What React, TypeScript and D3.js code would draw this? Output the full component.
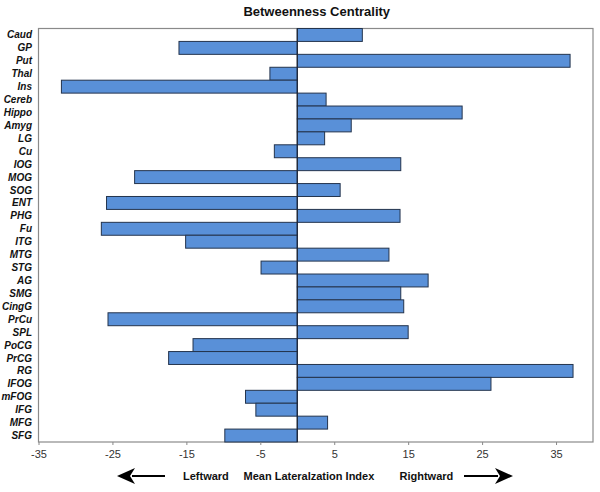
import React, { useRef, useEffect } from 'react';
import * as d3 from 'd3';

const regions = [
  "Caud", "GP", "Put", "Thal", "Ins", "Cereb", "Hippo", "Amyg", "LG", "Cu",
  "IOG", "MOG", "SOG", "ENT", "PHG", "Fu", "ITG", "MTG", "STG", "AG",
  "SMG", "CingG", "PrCu", "SPL", "PoCG", "PrCG", "RG", "IFOG", "mFOG", "IFG",
  "MFG", "SFG"
];
const lateralization = [
  8.8, -16.0, 36.9, -3.7, -31.9, 3.9, 22.3, 7.3, 3.7, -3.1,
  14.0, -22.0, 5.8, -25.8, 13.9, -26.5, -15.1, 12.4, -4.9, 17.7,
  14.0, 14.4, -25.6, 15.0, -14.1, -17.4, 37.3, 26.2, -7.0, -5.6,
  4.1, -9.8
];
const tickValues = [-35, -25, -15, -5, 5, 15, 25, 35];

export default function App() {
  const ref = useRef<SVGSVGElement>(null);
  const width = 600;
  const height = 492;

  useEffect(() => {
    const svg = d3.select(ref.current);
    svg.selectAll("*").remove();

    const left = 38.5, right = 593, top = 28.5, bottom = 442;
    const x = d3.scaleLinear().domain([-35, 40]).range([left, right]);
    const y = d3.scaleBand().domain(regions).range([top, bottom]).padding(0);
    const font = "Liberation Sans, Arial, sans-serif";

    svg.append("rect")
      .attr("x", left).attr("y", top)
      .attr("width", right - left).attr("height", bottom - top)
      .attr("fill", "white").attr("stroke", "#8a8a8a").attr("stroke-width", 1.2);

    svg.append("g")
      .selectAll("rect")
      .data(regions)
      .enter()
      .append("rect")
      .attr("x", (d, i) => x(Math.min(0, lateralization[i])))
      .attr("y", d => y(d)!)
      .attr("width", (d, i) => Math.abs(x(lateralization[i]) - x(0)))
      .attr("height", y.bandwidth())
      .attr("fill", "#5990d8")
      .attr("stroke", "#24344d")
      .attr("stroke-width", 1);

    svg.append("line")
      .attr("x1", x(0)).attr("x2", x(0))
      .attr("y1", top).attr("y2", bottom)
      .attr("stroke", "#1c2536").attr("stroke-width", 1.2);

    // hyphen minus like the original, not d3's unicode minus
    const xAxis = svg.append("g")
      .attr("transform", `translate(0,${bottom})`)
      .call(d3.axisBottom(x).tickValues(tickValues).tickSize(3).tickFormat(d => String(d)));
    xAxis.select(".domain").remove();
    xAxis.selectAll("line").attr("stroke", "#888");
    xAxis.selectAll("text")
      .attr("font-family", font).attr("font-size", 11)
      .attr("fill", "#333").attr("dy", "0.9em");

    svg.append("g")
      .selectAll("text")
      .data(regions)
      .enter()
      .append("text")
      .attr("x", 32)
      .attr("y", d => y(d)! + y.bandwidth() / 2)
      .attr("dy", "0.35em")
      .attr("text-anchor", "end")
      .attr("font-family", font)
      .attr("font-size", 10)
      .attr("font-weight", "bold")
      .attr("font-style", "italic")
      .attr("fill", "#111")
      .text(d => d);

    svg.append("text")
      .attr("x", (left + right) / 2 + 1).attr("y", 16)
      .attr("text-anchor", "middle")
      .attr("font-family", font).attr("font-size", 13).attr("font-weight", "bold")
      .attr("fill", "#111")
      .text("Betweenness Centrality");

    const labels = [
      { t: "Leftward", x: 183 },
      { t: "Mean Lateralzation Index", x: 243.5 },
      { t: "Rightward", x: 399.5 }
    ];
    svg.append("g")
      .selectAll("text")
      .data(labels)
      .enter()
      .append("text")
      .attr("x", d => d.x).attr("y", 480)
      .attr("font-family", font).attr("font-size", 11).attr("font-weight", "bold")
      .attr("fill", "#111")
      .text(d => d.t);

    // arrows
    const ay = 476;
    svg.append("line").attr("x1", 132).attr("x2", 165).attr("y1", ay).attr("y2", ay)
      .attr("stroke", "#000").attr("stroke-width", 2);
    svg.append("path").attr("d", `M117,${ay} L135,${ay - 8} L130,${ay} L135,${ay + 8} Z`).attr("fill", "#000");
    svg.append("line").attr("x1", 464).attr("x2", 498).attr("y1", ay).attr("y2", ay)
      .attr("stroke", "#000").attr("stroke-width", 2);
    svg.append("path").attr("d", `M513,${ay} L495,${ay - 8} L500,${ay} L495,${ay + 8} Z`).attr("fill", "#000");
  }, []);

  return (
    <svg ref={ref} width={width} height={height}
      style={{ position: "absolute", left: 0, top: 0, background: "white" }} />
  );
}
